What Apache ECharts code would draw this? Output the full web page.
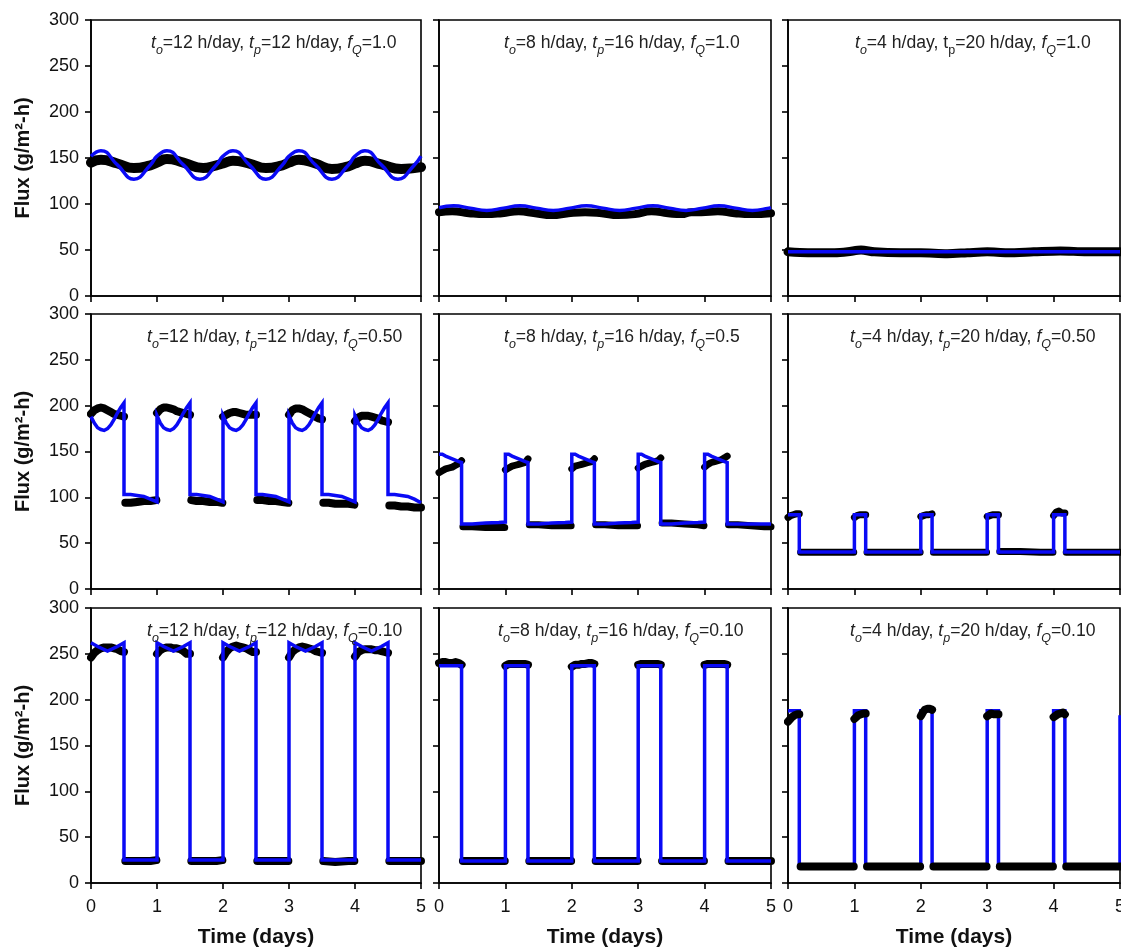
<!DOCTYPE html>
<html>
<head>
<meta charset="utf-8">
<script src="https://cdn.jsdelivr.net/npm/echarts@6/dist/echarts.min.js"></script>
<style>html,body{margin:0;padding:0;background:#fff}#c{width:1121px;height:947px}</style>
</head>
<body>
<div id="c"></div>
<script>
// ---------- DATA (time in days, flux in g/m2-h) ----------
const xTicks = [0, 1, 2, 3, 4, 5];
const yTicks = [0, 50, 100, 150, 200, 250, 300];

const labelA = '{i|t}{s|o}{n|=12 h/day, }{i|t}{s|p}{n|=12 h/day, }{i|f}{s|Q}{n|=1.0}';
const labelB = '{i|t}{s|o}{n|=8 h/day, }{i|t}{s|p}{n|=16 h/day, }{i|f}{s|Q}{n|=1.0}';
const labelC = '{i|t}{s|o}{n|=4 h/day, t}{u|p}{n|=20 h/day, }{i|f}{s|Q}{n|=1.0}';
const labelD = '{i|t}{s|o}{n|=12 h/day, }{i|t}{s|p}{n|=12 h/day, }{i|f}{s|Q}{n|=0.50}';
const labelE = '{i|t}{s|o}{n|=8 h/day, }{i|t}{s|p}{n|=16 h/day, }{i|f}{s|Q}{n|=0.5}';
const labelF = '{i|t}{s|o}{n|=4 h/day, }{i|t}{s|p}{n|=20 h/day, }{i|f}{s|Q}{n|=0.50}';
const labelG = '{i|t}{s|o}{n|=12 h/day, }{i|t}{s|p}{n|=12 h/day, }{i|f}{s|Q}{n|=0.10}';
const labelH = '{i|t}{s|o}{n|=8 h/day, }{i|t}{s|p}{n|=16 h/day, }{i|f}{s|Q}{n|=0.10}';
const labelI = '{i|t}{s|o}{n|=4 h/day, }{i|t}{s|p}{n|=20 h/day, }{i|f}{s|Q}{n|=0.10}';

// Panel A: to=12, tp=12, fQ=1.0
const measA = [[0,145],[0.15,148],[0.4,144],[0.65,139],[0.9,142],
 [1,145],[1.15,149],[1.4,145],[1.7,139],[1.9,142],
 [2,144],[2.15,147],[2.4,144],[2.65,139],[2.9,142],
 [3,145],[3.15,148],[3.4,144],[3.65,138],[3.9,141],
 [4,144],[4.15,147],[4.4,143],[4.7,138],[4.9,139],[5,140]];
const modelA = [[0,152],[0.15,158],[0.4,142.5],[0.65,127],[0.9,142.5],
 [1,152],[1.15,158],[1.4,142.5],[1.65,127],[1.9,142.5],
 [2,152],[2.15,158],[2.4,142.5],[2.65,127],[2.9,142.5],
 [3,152],[3.15,158],[3.4,142.5],[3.65,127],[3.9,142.5],
 [4,152],[4.15,158],[4.4,142.5],[4.65,127],[4.9,142.5],[5,152]];

// Panel B: to=8, tp=16, fQ=1.0
const measB = [[0,91],[0.2,92],[0.45,90],[0.7,89],[0.95,90],
 [1.2,92],[1.45,90],[1.7,88],[1.95,90],
 [2.2,91],[2.45,90],[2.7,88],[2.95,89],
 [3.2,92],[3.45,90],[3.65,89],[3.8,91],[3.95,91],
 [4.2,92],[4.45,90],[4.7,89],[5,90]];
const modelB = [[0,96],[0.22,98],[0.47,95.5],[0.72,93],[0.97,95.5],
 [1.22,98],[1.47,95.5],[1.72,93],[1.97,95.5],
 [2.22,98],[2.47,95.5],[2.72,93],[2.97,95.5],
 [3.22,98],[3.47,95.5],[3.72,93],[3.97,95.5],
 [4.22,98],[4.47,95.5],[4.72,93],[4.97,95.5],[5,96]];

// Panel C: to=4, tp=20, fQ=1.0
const measC = [[0,48],[0.3,47],[0.7,47],[0.9,48],[1.1,50],[1.3,48],[1.7,47],[2,47],[2.4,46],[2.7,47],
 [3,48],[3.3,47],[3.7,48],[4.1,49],[4.5,48],[5,48]];
const modelC = [[0,48],[1,48],[2,48],[3,48],[4,48],[5,48]];

// Panel D: to=12, tp=12, fQ=0.50
const measD = [[0,191],[0.05,195],[0.1,197],[0.15,198],[0.2,197],[0.25,195],[0.3,193],[0.35,191],[0.4,190],[0.45,189],[0.5,188],[0.51,'-'],
 [0.52,94],[0.6,94],[0.7,95],[0.8,96],[0.9,96],[0.99,97],[0.995,'-'],
 [1,192],[1.05,196],[1.1,198],[1.15,198],[1.2,197],[1.25,196],[1.3,194],[1.35,193],[1.4,192],[1.45,191],[1.5,190],[1.51,'-'],
 [1.52,97],[1.6,96],[1.7,96],[1.8,95],[1.9,95],[1.99,94],[1.995,'-'],
 [2,188],[2.05,190],[2.1,192],[2.15,193],[2.2,193],[2.25,192],[2.3,191],[2.35,190],[2.4,190],[2.45,190],[2.5,190],[2.51,'-'],
 [2.52,97],[2.6,97],[2.7,96],[2.8,96],[2.9,95],[2.99,94],[2.995,'-'],
 [3,190],[3.05,195],[3.1,197],[3.15,197],[3.2,196],[3.25,194],[3.3,192],[3.35,190],[3.4,188],[3.45,186],[3.5,185],[3.51,'-'],
 [3.52,94],[3.6,94],[3.7,93],[3.8,93],[3.9,93],[3.99,92],[3.995,'-'],
 [4,183],[4.05,187],[4.1,189],[4.15,189],[4.2,189],[4.25,188],[4.3,187],[4.35,186],[4.4,184],[4.45,183],[4.5,182],[4.51,'-'],
 [4.52,91],[4.6,91],[4.7,90],[4.8,90],[4.9,89],[5,89]];
const modelD = [[0,188],[0.05,181],[0.1,176],[0.15,174],[0.2,173],[0.25,175],[0.3,179],[0.35,185],[0.4,192],[0.45,198],[0.5,203],
 [0.5,103],[0.6,103],[0.7,102],[0.8,101],[0.9,98],[1,95],
 [1,189],[1.05,181],[1.1,176],[1.15,174],[1.2,173],[1.25,175],[1.3,179],[1.35,185],[1.4,192],[1.45,198],[1.5,203],
 [1.5,103],[1.6,103],[1.7,102],[1.8,101],[1.9,98],[2,95],
 [2,189],[2.05,181],[2.1,176],[2.15,174],[2.2,173],[2.25,175],[2.3,179],[2.35,185],[2.4,192],[2.45,198],[2.5,203],
 [2.5,103],[2.6,103],[2.7,102],[2.8,101],[2.9,98],[3,95],
 [3,189],[3.05,181],[3.1,176],[3.15,174],[3.2,173],[3.25,175],[3.3,179],[3.35,185],[3.4,192],[3.45,198],[3.5,203],
 [3.5,103],[3.6,103],[3.7,102],[3.8,101],[3.9,98],[4,95],
 [4,189],[4.05,181],[4.1,176],[4.15,174],[4.2,173],[4.25,175],[4.3,179],[4.35,185],[4.4,192],[4.45,198],[4.5,203],
 [4.5,103],[4.6,103],[4.7,102],[4.8,101],[4.9,98],[5,94]];

// Panel E: to=8, tp=16, fQ=0.5
const measE = [[0,127],[0.05,129],[0.1,131],[0.15,132],[0.2,133],[0.25,135],[0.3,137],[0.34,140],[0.35,'-'],
 [0.36,68],[0.5,68],[0.7,67],[0.9,67],[0.99,67],[0.995,'-'],
 [1,130],[1.05,132],[1.1,134],[1.15,135],[1.2,136],[1.25,137],[1.3,138],[1.34,142],[1.35,'-'],
 [1.36,70],[1.5,70],[1.7,69],[1.9,69],[1.99,69],[1.995,'-'],
 [2,131],[2.05,134],[2.1,135],[2.15,136],[2.2,137],[2.25,138],[2.3,139],[2.34,142],[2.35,'-'],
 [2.36,70],[2.5,70],[2.7,69],[2.9,69],[2.99,69],[2.995,'-'],
 [3,132],[3.05,134],[3.1,136],[3.15,137],[3.2,138],[3.25,139],[3.3,140],[3.34,143],[3.35,'-'],
 [3.36,72],[3.5,72],[3.7,71],[3.9,70],[3.99,69],[3.995,'-'],
 [4,133],[4.05,136],[4.1,138],[4.15,139],[4.2,140],[4.25,141],[4.3,143],[4.34,145],[4.35,'-'],
 [4.36,70],[4.5,70],[4.7,69],[4.9,68],[5,68]];
const modelE = [[0,147],[0.05,147],[0.1,145],[0.2,142],[0.3,139],[0.34,138],[0.34,71],[0.5,71],[0.7,72],[0.9,72.5],[1,73],
 [1,147],[1.05,147],[1.1,145],[1.2,142],[1.3,139],[1.34,138],[1.34,71],[1.5,71],[1.7,72],[1.9,72.5],[2,73],
 [2,147],[2.05,147],[2.1,145],[2.2,142],[2.3,139],[2.34,138],[2.34,71],[2.5,71],[2.7,72],[2.9,72.5],[3,73],
 [3,147],[3.05,147],[3.1,145],[3.2,142],[3.3,139],[3.34,138],[3.34,71],[3.5,71],[3.7,72],[3.9,72.5],[4,73],
 [4,147],[4.05,147],[4.1,145],[4.2,142],[4.3,139],[4.34,138],[4.34,71],[4.5,71],[4.7,71],[4.9,71],[5,71]];

// Panel F: to=4, tp=20, fQ=0.50
const measF = [[0,78],[0.04,80],[0.08,81],[0.12,82],[0.17,82],[0.18,'-'],
 [0.19,40],[0.5,40],[0.8,40],[0.99,40],[0.995,'-'],
 [1,78],[1.04,80],[1.08,81],[1.12,81],[1.17,81],[1.18,'-'],
 [1.19,40],[1.5,40],[1.8,40],[1.99,40],[1.995,'-'],
 [2,79],[2.04,80],[2.08,81],[2.12,81],[2.17,82],[2.18,'-'],
 [2.19,40],[2.5,40],[2.8,40],[2.99,40],[2.995,'-'],
 [3,79],[3.04,80],[3.08,81],[3.12,81],[3.17,81],[3.18,'-'],
 [3.19,41],[3.5,41],[3.8,40],[3.99,40],[3.995,'-'],
 [4,80],[4.04,84],[4.08,85],[4.12,83],[4.17,83],[4.18,'-'],
 [4.19,40],[4.5,40],[4.8,40],[5,40]];
const modelF = [[0,81],[0.17,81],[0.17,40.5],[1,40.5],[1,81],[1.17,81],[1.17,40.5],[2,40.5],[2,81],[2.17,81],[2.17,40.5],
 [3,40.5],[3,81],[3.17,81],[3.17,40.5],[4,40.5],[4,81],[4.17,81],[4.17,40.5],[5,40.5]];

// Panel G: to=12, tp=12, fQ=0.10
const measG = [[0,246],[0.05,251],[0.1,254],[0.15,256],[0.2,257],[0.25,257],[0.3,257],[0.35,256],[0.4,255],[0.45,253],[0.5,252],[0.51,'-'],
 [0.52,24],[0.7,24],[0.9,24],[0.99,25],[0.995,'-'],
 [1,250],[1.05,254],[1.1,256],[1.15,257],[1.2,257],[1.25,256],[1.3,256],[1.35,255],[1.4,253],[1.45,250],[1.5,250],[1.51,'-'],
 [1.52,24],[1.7,24],[1.9,24],[1.99,25],[1.995,'-'],
 [2,246],[2.05,252],[2.1,256],[2.15,258],[2.2,259],[2.25,258],[2.3,257],[2.35,256],[2.4,254],[2.45,252],[2.5,252],[2.51,'-'],
 [2.52,24],[2.7,24],[2.9,24],[2.99,24],[2.995,'-'],
 [3,246],[3.05,252],[3.1,255],[3.15,257],[3.2,258],[3.25,257],[3.3,256],[3.35,255],[3.4,253],[3.45,252],[3.5,251],[3.51,'-'],
 [3.52,24],[3.7,23],[3.9,24],[3.99,24],[3.995,'-'],
 [4,247],[4.05,252],[4.1,254],[4.15,255],[4.2,255],[4.25,255],[4.3,254],[4.35,254],[4.4,253],[4.45,252],[4.5,251],[4.51,'-'],
 [4.52,24],[4.7,24],[4.9,24],[5,24]];
const modelG = [[0,262],[0.1,258],[0.25,253],[0.4,258],[0.5,262],[0.5,25],[1,25],
 [1,262],[1.1,258],[1.25,253],[1.4,258],[1.5,262],[1.5,25],[2,25],
 [2,262],[2.1,258],[2.25,253],[2.4,258],[2.5,262],[2.5,25],[3,25],
 [3,262],[3.1,258],[3.25,253],[3.4,258],[3.5,262],[3.5,25],[4,25],
 [4,262],[4.1,258],[4.25,253],[4.4,258],[4.5,262],[4.5,25],[5,25]];

// Panel H: to=8, tp=16, fQ=0.10
const measH = [[0,240],[0.05,241],[0.1,241],[0.15,240],[0.2,240],[0.25,241],[0.3,240],[0.34,238],[0.35,'-'],
 [0.36,24],[0.6,24],[0.8,24],[0.99,24],[0.995,'-'],
 [1,237],[1.05,239],[1.1,239],[1.15,239],[1.2,239],[1.25,239],[1.3,239],[1.34,238],[1.35,'-'],
 [1.36,24],[1.6,24],[1.8,24],[1.99,24],[1.995,'-'],
 [2,236],[2.05,238],[2.1,238],[2.15,239],[2.2,239],[2.25,240],[2.3,240],[2.34,239],[2.35,'-'],
 [2.36,24],[2.6,24],[2.8,24],[2.99,24],[2.995,'-'],
 [3,238],[3.05,239],[3.1,239],[3.15,239],[3.2,239],[3.25,239],[3.3,239],[3.34,238],[3.35,'-'],
 [3.36,24],[3.6,24],[3.8,24],[3.99,24],[3.995,'-'],
 [4,238],[4.05,239],[4.1,239],[4.15,239],[4.2,239],[4.25,239],[4.3,239],[4.34,238],[4.35,'-'],
 [4.36,24],[4.6,24],[4.8,24],[5,24]];
const modelH = [[0,237],[0.34,237],[0.34,24],[1,24],[1,237],[1.34,237],[1.34,24],[2,24],[2,237],[2.34,237],[2.34,24],
 [3,24],[3,237],[3.34,237],[3.34,24],[4,24],[4,237],[4.34,237],[4.34,24],[5,24]];

// Panel I: to=4, tp=20, fQ=0.10
const measI = [[0,176],[0.03,178],[0.06,181],[0.1,183],[0.14,184],[0.17,184],[0.18,'-'],
 [0.19,18],[0.5,18],[0.8,18],[0.99,18],[0.995,'-'],
 [1,179],[1.03,181],[1.06,183],[1.1,184],[1.14,185],[1.17,185],[1.18,'-'],
 [1.19,18],[1.5,18],[1.8,18],[1.99,18],[1.995,'-'],
 [2,182],[2.03,186],[2.06,189],[2.1,190],[2.14,190],[2.17,189],[2.18,'-'],
 [2.19,18],[2.5,18],[2.8,18],[2.99,18],[2.995,'-'],
 [3,182],[3.03,184],[3.06,185],[3.1,184],[3.14,184],[3.17,184],[3.18,'-'],
 [3.19,18],[3.5,18],[3.8,18],[3.99,18],[3.995,'-'],
 [4,181],[4.03,183],[4.06,184],[4.1,185],[4.14,186],[4.17,184],[4.18,'-'],
 [4.19,18],[4.5,18],[4.8,18],[5,18]];
const modelI = [[0,188],[0.17,188],[0.17,18],[1,18],[1,188],[1.17,188],[1.17,18],[2,18],[2,188],[2.17,188],[2.17,18],
 [3,18],[3,188],[3.17,188],[3.17,18],[4,18],[4,188],[4.17,188],[4.17,18],[5,18],[5,183]];

// ---------- LAYOUT ----------
const colLeft = [91, 439, 788];
const colWidth = [330, 332, 332];
const rowTop = [20, 314, 608];
const rowHeight = [276, 275, 275];
const labelLeft = [[151, 504, 855], [147, 504, 850], [147, 498, 850]];

const panels = [
  {meas: measA, model: modelA, label: labelA, smooth: 0.5, w: 10, mz: 3},
  {meas: measB, model: modelB, label: labelB, smooth: 0.5, w: 8, mz: 3},
  {meas: measC, model: modelC, label: labelC, smooth: 0.3, w: 9, mz: 3},
  {meas: measD, model: modelD, label: labelD, smooth: false, w: 8, mz: 3},
  {meas: measE, model: modelE, label: labelE, smooth: false, w: 7, mz: 3},
  {meas: measF, model: modelF, label: labelF, smooth: false, w: 7, mz: 3},
  {meas: measG, model: modelG, label: labelG, smooth: false, w: 8, mz: 3},
  {meas: measH, model: modelH, label: labelH, smooth: false, w: 8, mz: 3},
  {meas: measI, model: modelI, label: labelI, smooth: false, w: 8, mz: 1}
];

const FONT = '"Liberation Sans", Arial, sans-serif';
const BLUE = '#0a0af5';
const grids = [], xAxes = [], yAxes = [], series = [], titles = [];

panels.forEach((p, k) => {
  const r = Math.floor(k / 3), c = k % 3;
  grids.push({left: colLeft[c], top: rowTop[r], width: colWidth[c], height: rowHeight[r],
    show: true, borderColor: '#000', borderWidth: 1.6, backgroundColor: 'transparent',
    containLabel: false, outerBoundsMode: 'none'});
  xAxes.push({
    type: 'value', gridIndex: k, min: xTicks[0], max: xTicks[xTicks.length - 1], interval: 1,
    axisLine: {show: true, onZero: false, lineStyle: {color: '#000', width: 1.6}},
    axisTick: {show: true, inside: false, length: 6, lineStyle: {color: '#000', width: 1.6}},
    axisLabel: {show: r === 2, margin: 15, color: '#111', fontSize: 18, fontFamily: FONT,
      showMinLabel: true, showMaxLabel: true, hideOverlap: false},
    splitLine: {show: false},
    name: r === 2 ? 'Time (days)' : '', nameLocation: 'middle', nameGap: 44,
    nameTextStyle: {fontSize: 21, fontWeight: 'bold', color: '#111', fontFamily: FONT}
  });
  yAxes.push({
    type: 'value', gridIndex: k, min: yTicks[0], max: yTicks[yTicks.length - 1], interval: 50,
    axisLine: {show: true, onZero: false, lineStyle: {color: '#000', width: 1.6}},
    axisTick: {show: true, inside: false, length: 6, lineStyle: {color: '#000', width: 1.6}},
    axisLabel: {show: c === 0, margin: 12, color: '#111', fontSize: 18, fontFamily: FONT, hideOverlap: false},
    splitLine: {show: false},
    name: c === 0 ? 'Flux (g/m\u00B2-h)' : '', nameLocation: 'middle', nameGap: 58,
    nameTextStyle: {fontSize: 20, fontWeight: 'bold', color: '#111', fontFamily: FONT}
  });
  series.push({
    type: 'line', xAxisIndex: k, yAxisIndex: k, data: p.meas, showSymbol: false, smooth: p.smooth,
    connectNulls: false, animation: false, z: 2,
    lineStyle: {color: '#000', width: p.w, cap: 'round', join: 'round'}
  });
  series.push({
    type: 'line', xAxisIndex: k, yAxisIndex: k, data: p.model, showSymbol: false, smooth: p.smooth,
    animation: false, z: p.mz,
    lineStyle: {color: BLUE, width: 3.5, join: 'miter'}
  });
  titles.push({
    text: p.label, left: labelLeft[r][c], top: rowTop[r] + 18, padding: 0,
    textStyle: {
      fontFamily: FONT, fontSize: 17.6, fontWeight: 'normal', color: '#222',
      rich: {
        n: {fontFamily: FONT, fontSize: 17.6, color: '#222', lineHeight: 19, padding: [0, 0, 5, 0], verticalAlign: 'bottom'},
        i: {fontFamily: FONT, fontSize: 17.6, fontStyle: 'italic', color: '#222', lineHeight: 19, padding: [0, 0, 5, 0], verticalAlign: 'bottom'},
        s: {fontFamily: FONT, fontSize: 12.5, fontStyle: 'italic', color: '#222', lineHeight: 13, verticalAlign: 'bottom'},
        u: {fontFamily: FONT, fontSize: 12.5, color: '#222', lineHeight: 13, verticalAlign: 'bottom'}
      }
    }
  });
});

const chart = echarts.init(document.getElementById('c'), null, {renderer: 'canvas'});
chart.setOption({
  animation: false,
  backgroundColor: '#fff',
  title: titles,
  grid: grids,
  xAxis: xAxes,
  yAxis: yAxes,
  series: series
});
</script>
</body>
</html>
